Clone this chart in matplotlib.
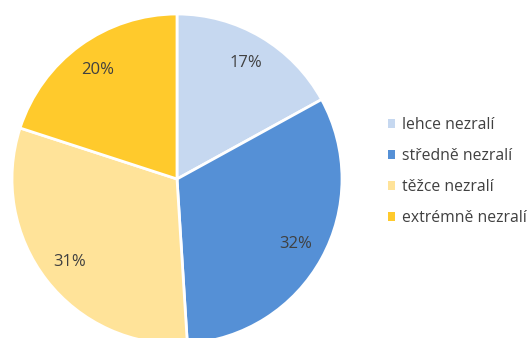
import matplotlib.pyplot as plt

# maturity categories and their shares (%)
labels = ['lehce nezralí', 'středně nezralí', 'těžce nezralí', 'extrémně nezralí']
shares = [17, 32, 31, 20]
colors = ['#C6D8F0', '#5590D6', '#FFE399', '#FFCA2C']

plt.rcParams['font.family'] = ['Open Sans', 'DejaVu Sans']

fig = plt.figure(figsize=(5.31, 3.38), dpi=100)
# pie circle: centre (177, 179) px, radius 165 px
ax = fig.add_axes([12 / 531, (338 - 344) / 338, 330 / 531, 330 / 338])

wedges, texts, autotexts = ax.pie(
    shares, colors=colors, startangle=90, counterclock=False,
    autopct='%d%%', pctdistance=0.82,
    wedgeprops=dict(edgecolor='white', linewidth=2),
    textprops=dict(color='#404040', fontsize=12))
ax.set_xlim(-1, 1)
ax.set_ylim(-1, 1)
ax.set_aspect('auto')
ax.axis('off')

leg = fig.legend(wedges, labels, loc='upper left', bbox_to_anchor=(382 / 531, 1 - 111 / 338),
                 frameon=False, fontsize=11.3, labelcolor='#404040',
                 handlelength=0.45, handleheight=0.45, handletextpad=0.45,
                 labelspacing=0.95, borderaxespad=0)
for h in leg.legend_handles:
    h.set_edgecolor('none')

fig.savefig('out.png', dpi=100)
